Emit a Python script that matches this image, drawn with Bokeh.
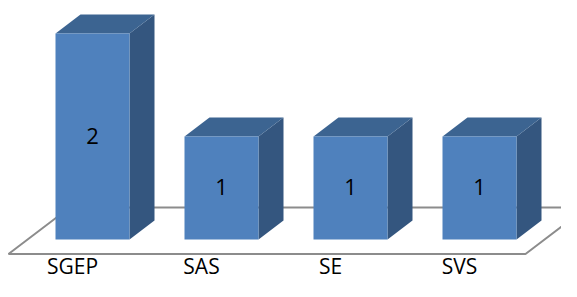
from bokeh.plotting import figure
from bokeh.models import ColumnDataSource, Range1d
from bokeh.core.properties import value
from bokeh.embed import file_html
from bokeh.resources import INLINE

# ---- data ----
categories = ["SGEP", "SAS", "SE", "SVS"]
counts = [2, 1, 1, 1]

# ---- layout (pixels) ----
W, H = 561, 281
PX_X = 129.0   # pixels per category step
PX_Y = 103.0   # pixels per unit value
X0 = -92.0 / PX_X
Y0 = -42.0 / PX_Y

BW = 37.0 / PX_X          # half bar width
DDX = 25.0 / PX_X         # depth offset x
DDY = 19.0 / PX_Y         # depth offset y

FRONT = "#4F81BD"
SIDE = "#34567F"
TOP = "#3C6491"
FLOOR = "#8C8C8C"

p = figure(width=W, height=H,
           x_range=Range1d(X0, X0 + W / PX_X),
           y_range=Range1d(Y0, Y0 + H / PX_Y),
           output_backend="svg", toolbar_location=None, min_border=0)
p.axis.visible = False
p.grid.visible = False
p.outline_line_color = None
p.background_fill_color = "white"
p.border_fill_color = "white"

xs = list(range(len(categories)))

# floor parallelogram
f_front = -14.5 / PX_Y
f_back = 32.0 / PX_Y
f_left = -84.0 / PX_X
f_right = 433.0 / PX_X
f_dx = (f_back - f_front) * PX_Y * (25.0 / 19.0) / PX_X
p.patch([f_left, f_right, f_right + f_dx, f_left + f_dx],
        [f_front, f_front, f_back, f_back],
        fill_color=None, line_color=FLOOR, line_width=2)

# bars
side_xs, side_ys, top_xs, top_ys = [], [], [], []
for x, v in zip(xs, counts):
    r = x + BW
    l = x - BW
    side_xs.append([r, r + DDX, r + DDX, r])
    side_ys.append([0, DDY, v + DDY, v])
    top_xs.append([l, r, r + DDX, l + DDX])
    top_ys.append([v, v, v + DDY, v + DDY])

p.patches(side_xs, side_ys, fill_color=SIDE, line_color=None)
p.patches(top_xs, top_ys, fill_color=TOP, line_color=None)
p.quad(left=[x - BW for x in xs], right=[x + BW for x in xs],
       bottom=[0] * len(xs), top=counts,
       fill_color=FRONT, line_color=None)

# value labels
lab = ColumnDataSource(dict(x=xs, y=[v / 2 + 1.0 / PX_Y for v in counts],
                            t=[str(v) for v in counts]))
p.text(x="x", y="y", text="t", source=lab,
       text_font=value("Open Sans"), text_font_size="22px",
       text_align="center", text_baseline="middle", text_color="black")

# category labels
cat = ColumnDataSource(dict(x=[x - 20.0 / PX_X for x in xs],
                            y=[-40.5 / PX_Y] * len(xs),
                            t=categories))
p.text(x="x", y="y", text="t", source=cat,
       text_font=value("Open Sans"), text_font_size="21px",
       text_align="center", text_baseline="bottom", text_color="black")

open("out.html", "w").write(file_html(p, INLINE))
